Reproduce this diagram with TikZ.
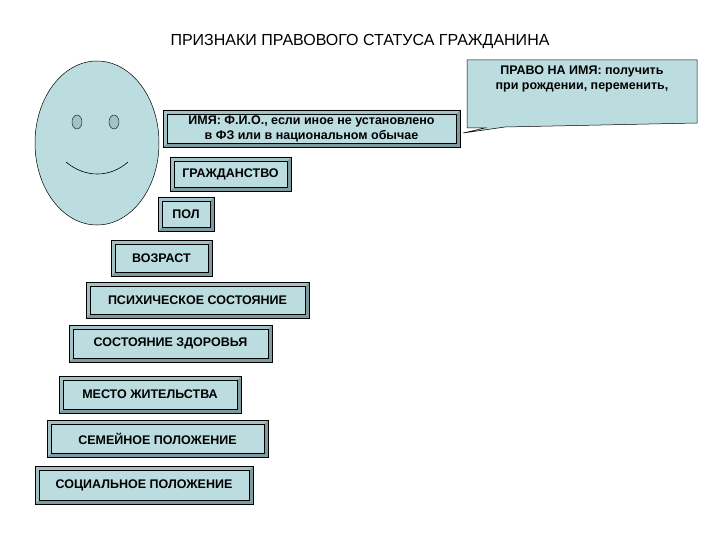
\documentclass[tikz,border=0pt]{standalone}
\usepackage{fontspec}
\setmainfont{Liberation Sans}
\definecolor{lb}{HTML}{BCDDE0}
\definecolor{dk}{HTML}{7E9C9F}
\definecolor{md}{HTML}{A3C2C5}
\begin{document}
\begin{tikzpicture}[x=1pt,y=-1pt,
  lab/.style={font=\fontsize{12.5}{15}\selectfont\bfseries,align=center,text=black,inner sep=0pt}]
\useasboundingbox (0,0) rectangle (720,540);
\newcommand{\bev}[6]{%
  \fill[dk] (#1,#2) rectangle (#3,#4);
  \fill[md] (#1,#2) -- (#3,#2) -- (#3-4,#2+4) -- (#1+4,#4-4) -- (#1,#4) -- cycle;
  \fill[lb] (#1+4,#2+4) rectangle (#3-4,#4-4);
  \draw[black,line width=0.6pt] (#1,#2) rectangle (#3,#4);
  \draw[black,line width=0.3pt] (#1+4,#2+4) rectangle (#3-4,#4-4);
  \node[lab] (#5) at ({(#1+#3)/2},{(#2+#4)/2}) {#6};}
\node[font=\fontsize{16}{18}\selectfont] (title) at (360,42) {ПРИЗНАКИ ПРАВОВОГО СТАТУСА ГРАЖДАНИНА};
% face
\draw[fill=lb,line width=0.5pt] (97,143) ellipse [x radius=62,y radius=82];
\draw[fill=md] (77,122) ellipse [x radius=5,y radius=7];
\draw[fill=md] (114,122) ellipse [x radius=5,y radius=7];
\draw[line width=0.6pt] (66,162) .. controls (85,178) and (110,178) .. (128,162);
\bev{163}{110}{460}{147}{imya}{ИМЯ: Ф.И.О., если иное не установлено\\в ФЗ или в национальном обычае}
\bev{170}{157}{291}{191}{gr}{ГРАЖДАНСТВО}
\bev{158}{197}{214}{231}{pol}{ПОЛ}
\bev{111}{240}{212}{276}{voz}{ВОЗРАСТ}
\bev{86}{282}{309}{318}{psi}{ПСИХИЧЕСКОЕ СОСТОЯНИЕ}
\bev{69}{325}{272}{362}{zdr}{СОСТОЯНИЕ ЗДОРОВЬЯ}
\bev{59}{376}{241}{413}{mes}{МЕСТО ЖИТЕЛЬСТВА}
\bev{47}{420}{268}{457}{sem}{СЕМЕЙНОЕ ПОЛОЖЕНИЕ}
\bev{35}{466}{253}{504}{soc}{СОЦИАЛЬНОЕ ПОЛОЖЕНИЕ}
% callout
\coordinate (tip) at (463,133);
\draw[fill=lb,line width=0.5pt] (467,60) -- (697,60) -- (697,123) -- (505,127) -- (tip) -- (485,128) -- (467,128) -- cycle;
\node[lab,anchor=north] (pravo) at (582,66) {ПРАВО НА ИМЯ: получить\\при рождении, переменить,};
\end{tikzpicture}
\end{document}
